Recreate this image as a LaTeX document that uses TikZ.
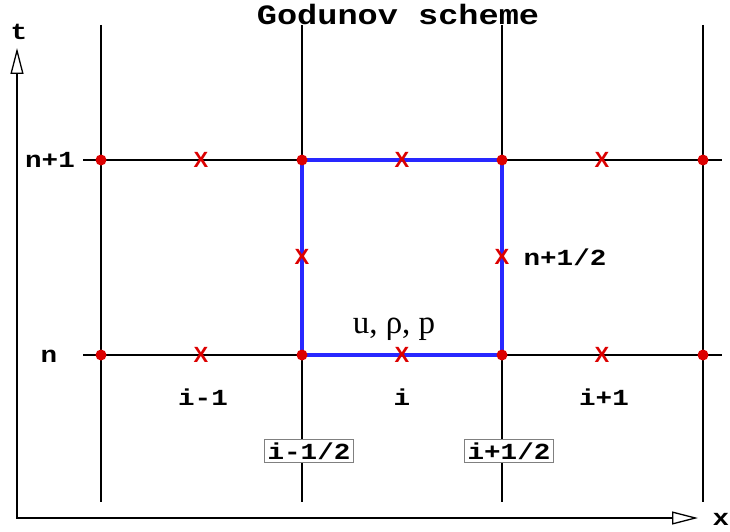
\documentclass[tikz,border=0pt]{standalone}
\usepackage{fontspec}
\setmainfont{Liberation Serif}
\setsansfont{Liberation Sans}
\setmonofont[FakeStretch=1.2]{Liberation Mono}
\usepackage{tikz}
\usetikzlibrary{arrows.meta}
\definecolor{gridred}{RGB}{220,0,0}
\definecolor{cellblue}{RGB}{40,40,255}

\begin{document}
\begin{tikzpicture}[x=1pt, y=-1pt,
  gridline/.style={line width=1.8pt, black},
  axis/.style={line width=1.8pt,
               {Triangle[open, length=26pt, width=13pt, line width=1.3pt]}-{Triangle[open, length=26pt, width=13pt, line width=1.3pt]}},
  cell/.style={line width=3.8pt, cellblue},
  griddot/.style={circle, fill=gridred, inner sep=0pt, minimum size=11pt},
  flux/.style={text=gridred, font=\fontsize{22}{22}\sffamily\bfseries, inner sep=0pt},
  lbl/.style={font=\fontsize{23}{23}\ttfamily\bfseries, inner sep=0pt, anchor=base},
  face/.style={lbl, draw=gray, fill=white, line width=0.8pt, inner xsep=3pt, inner ysep=3pt}]

  \useasboundingbox (0,0) rectangle (730,532);

  % axes
  \coordinate (O) at (17,518);
  \coordinate (tend) at (17,48);
  \coordinate (xend) at (698,518);
  \draw[axis] (tend) -- (O) -- (xend);
  \node[lbl] (tlab) at (19,40) {t};
  \node[lbl] (xlab) at (721,525) {x};

  % grid
  \foreach \i/\x in {0/101, 1/302, 2/502, 3/703} {
    \coordinate (v\i top) at (\x,25);
    \coordinate (v\i bot) at (\x,502);
    \draw[gridline] (v\i top) -- (v\i bot);
  }
  \foreach \j/\y in {0/355, 1/160} {
    \coordinate (h\j left) at (83,\y);
    \coordinate (h\j right) at (722,\y);
    \draw[gridline] (h\j left) -- (h\j right);
  }

  % cell i
  \draw[cell] (302,355) rectangle (502,160);

  % grid points
  \foreach \i/\x in {0/101, 1/302, 2/502, 3/703}
    \foreach \j/\y in {0/355, 1/160}
      \node[griddot] (p\i\j) at (\x,\y) {};

  % fluxes
  \foreach \k/\x in {0/201, 1/402, 2/602} {
    \node[flux] (fn\k) at (\x,355) {X};
    \node[flux] (fm\k) at (\x,160) {X};
  }
  \node[flux] (fl) at (302,257) {X};
  \node[flux] (fr) at (502,257) {X};

  % labels
  \node[lbl, font=\fontsize{28}{28}\ttfamily\bfseries] (title) at (398,25) {Godunov scheme};
  \node[lbl] (n1) at (50,167) {n+1};
  \node[lbl] (n0) at (49,362) {n};
  \node[lbl] (nh) at (565,265) {n+1/2};
  \node[font=\fontsize{33}{33}\selectfont, inner sep=0pt, anchor=base] (state) at (394,333) {u, ρ, p};
  \node[lbl] (cm) at (203,405) {i-1};
  \node[lbl] (c0) at (402,405) {i};
  \node[lbl] (cp) at (604,405) {i+1};
  \node[face] (ifm) at (309,459) {i-1/2};
  \node[face] (ifp) at (509,459) {i+1/2};
\end{tikzpicture}
\end{document}
